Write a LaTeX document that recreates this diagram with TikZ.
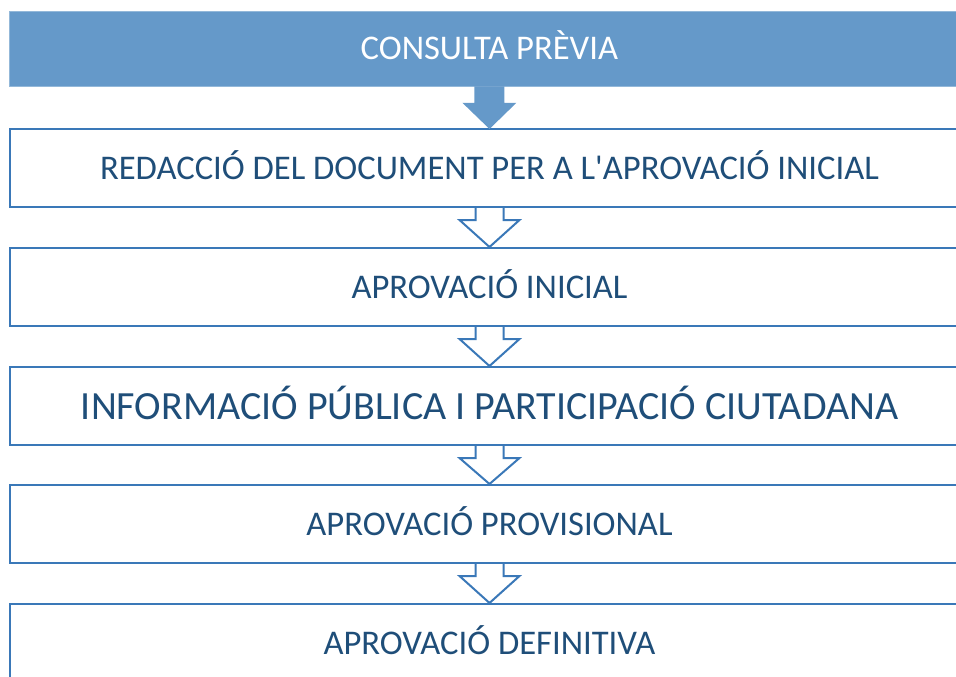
\documentclass[tikz,border=0pt]{standalone}
\usepackage{fontspec}
\setmainfont{Carlito}[Ligatures=TeXOff]
\usetikzlibrary{calc}
\definecolor{boxline}{HTML}{3A78B8}
\definecolor{topfill}{HTML}{6599C9}
\definecolor{txt}{HTML}{1F4E79}
\tikzset{
  stepbox/.style={draw=boxline, line width=2pt, fill=white, rectangle, anchor=north west,
    minimum width=959pt, minimum height=78pt, inner sep=0pt, text=txt, font=\fontsize{34.6}{40}\selectfont,
    text height=22pt, text depth=0pt},
  topbox/.style={fill=topfill, draw=topfill!70!white, line width=0.8pt, rectangle, anchor=north west,
    minimum width=960pt, minimum height=75pt, inner sep=0pt, text=white, font=\fontsize{34.6}{40}\selectfont,
    text height=22pt, text depth=0pt},
  openarrow/.style={draw=boxline, line width=2pt, fill=white, line join=miter}
}
\begin{document}
\begin{tikzpicture}[x=1pt,y=-1pt]
\useasboundingbox (0,0) rectangle (956,677);
\clip (0,0) rectangle (956,677);
\node[topbox] (b1) at (9,11) {CONSULTA PRÈVIA};
\node[stepbox] (b2) at (9,128) {REDACCIÓ DEL DOCUMENT PER A L'APROVACIÓ INICIAL};
\node[stepbox] (b3) at (9,247) {APROVACIÓ INICIAL};
\node[stepbox, font=\fontsize{40}{46}\selectfont, text height=26pt] (b4) at (9,366) {INFORMACIÓ PÚBLICA I PARTICIPACIÓ CIUTADANA};
\node[stepbox] (b5) at (9,484) {APROVACIÓ PROVISIONAL};
\node[stepbox] (b6) at (9,603) {APROVACIÓ DEFINITIVA};
% filled arrow
\fill[topfill] ($(b1.south)+(-15,-0.5)$) -- ++(0,16.5) -- ++(-12,0) -- ($(b2.north)+(0,1)$) -- ($(b1.south)+(27,16)$) -- ++(-12,0) -- ++(0,-16.5) -- cycle;
% open arrows
\foreach \a/\b in {b2/b3,b3/b4,b4/b5,b5/b6}{
  \path[openarrow] ($(\a.south)+(-14,0)$) -- ++(0,12) -- ++(-16,0) -- (\b.north) -- ($(\a.south)+(30,12)$) -- ++(-16,0) -- ++(0,-12);
}
\end{tikzpicture}
\end{document}
